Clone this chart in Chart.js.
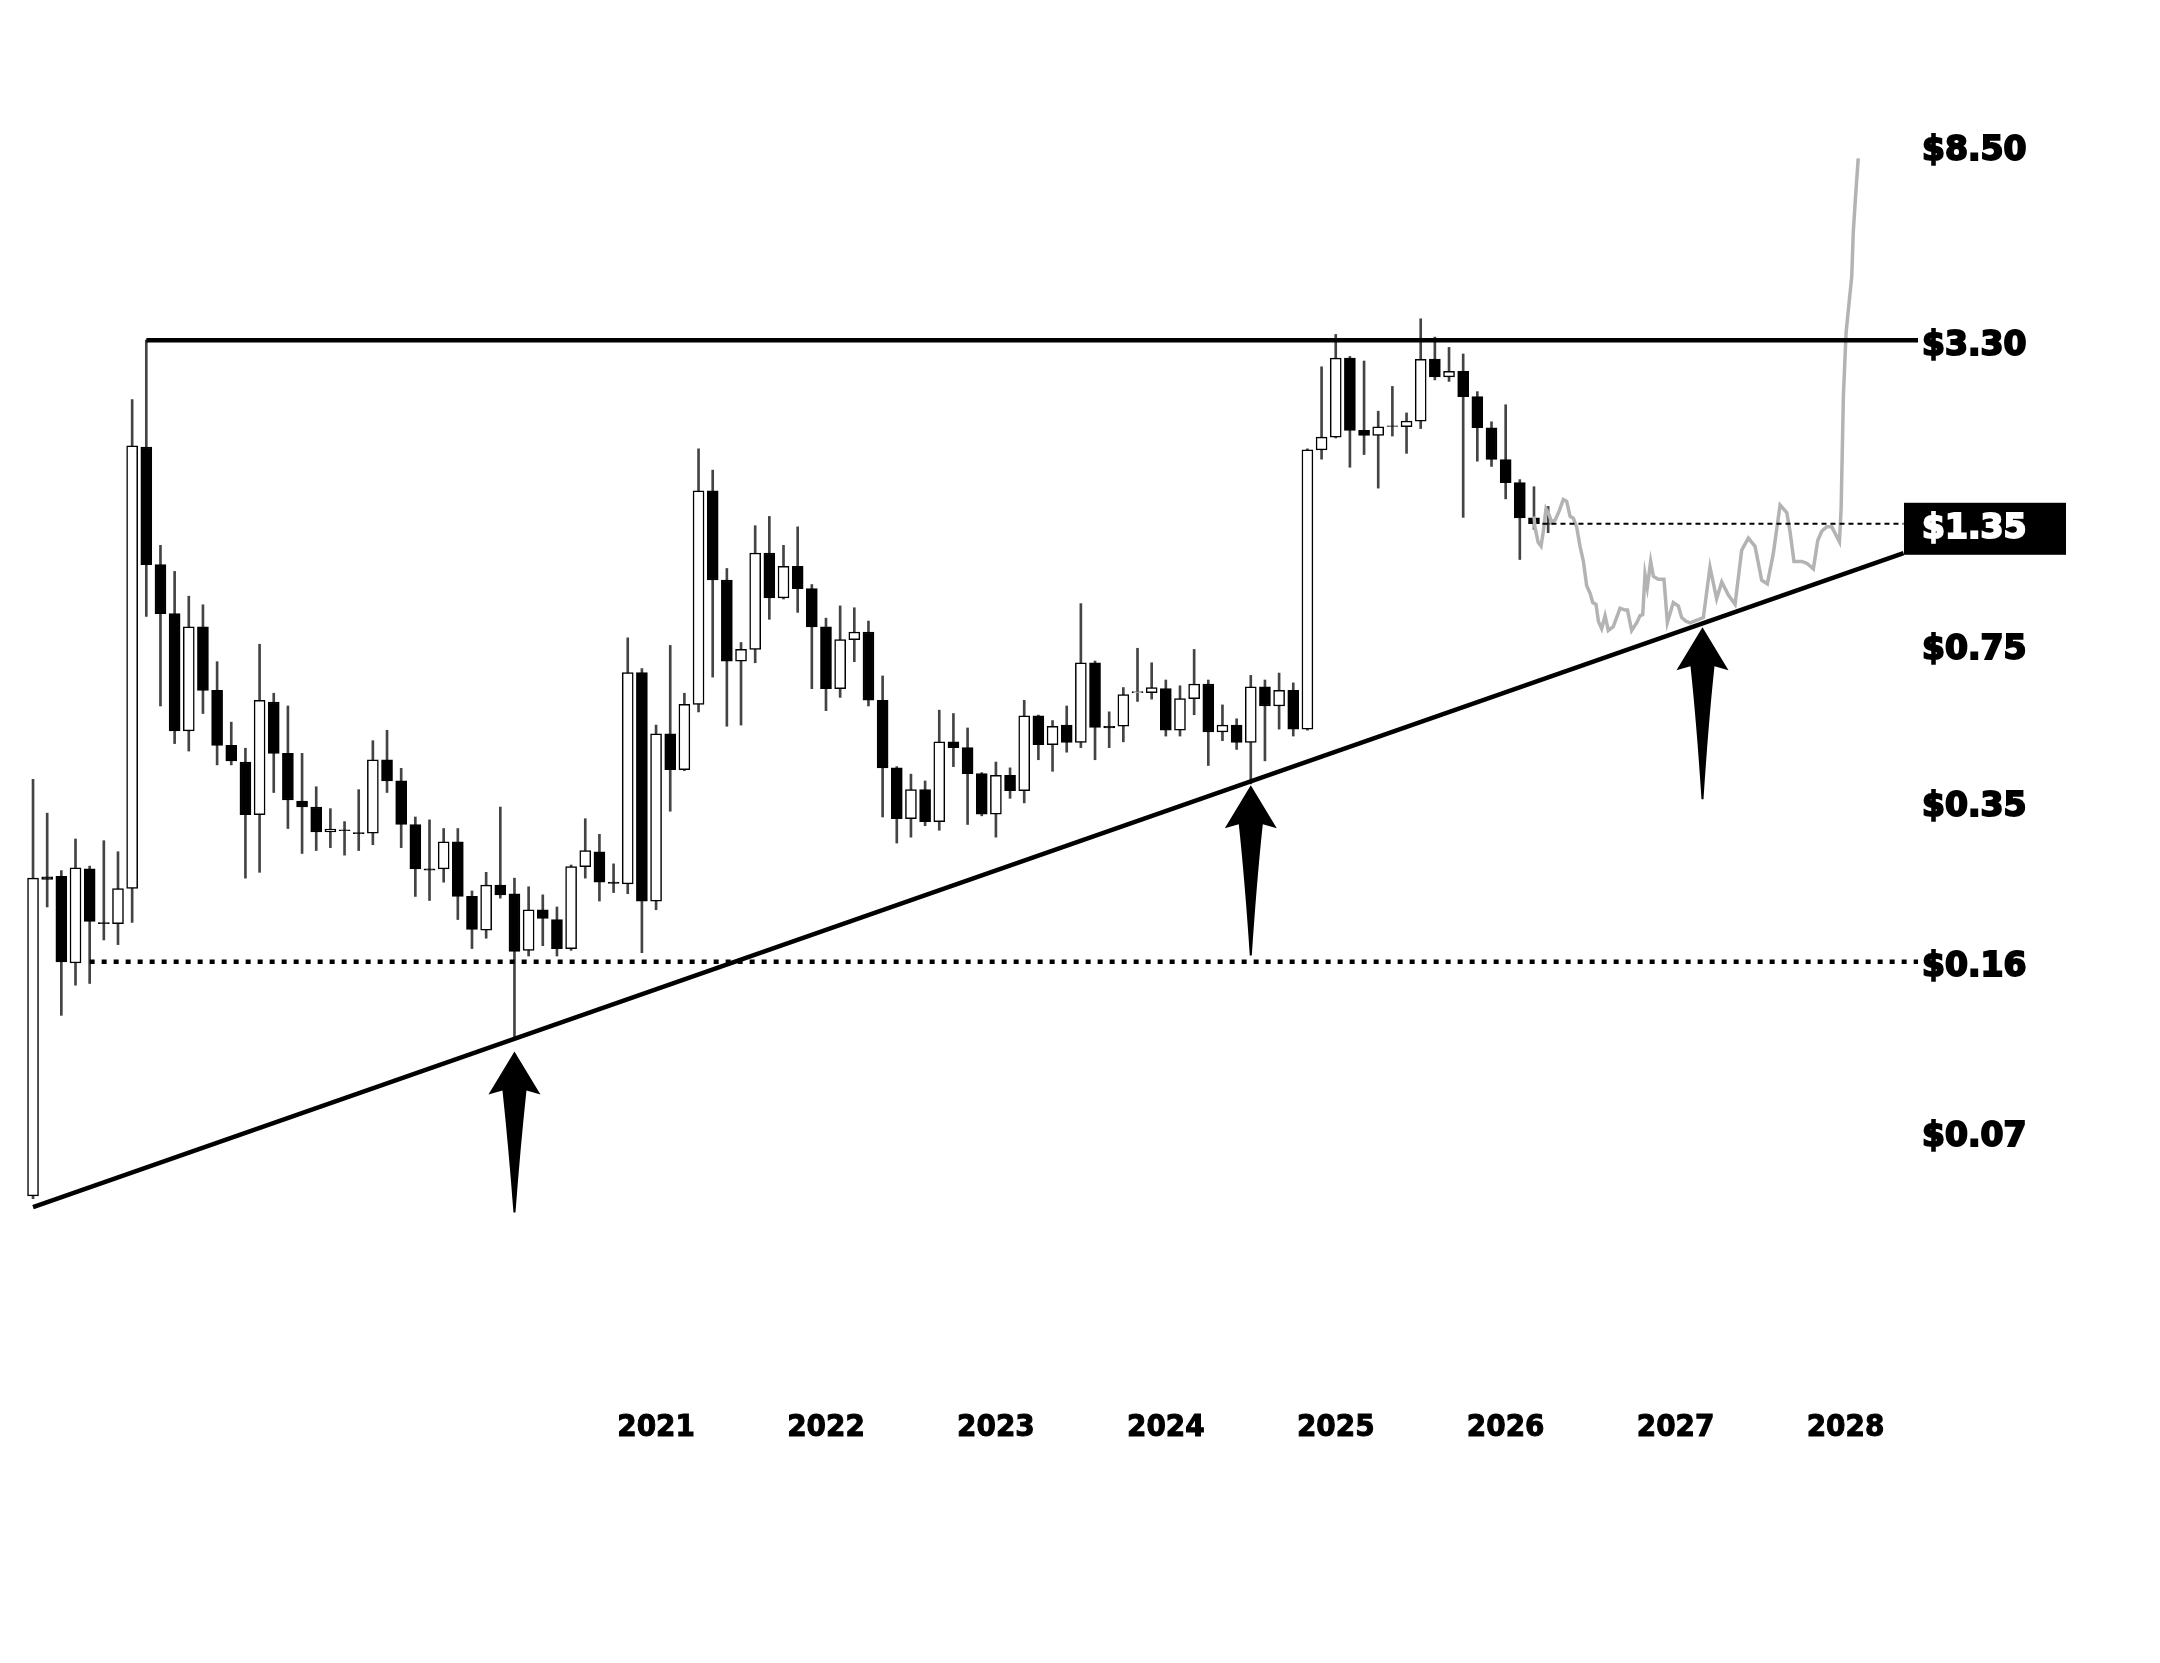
<!DOCTYPE html>
<html>
<head>
<meta charset="utf-8">
<title>Price chart</title>
<script src="https://cdn.jsdelivr.net/npm/chart.js@4.4.1/dist/chart.umd.min.js"></script>
<style>
  html, body { margin: 0; padding: 0; background: #fff; }
</style>
</head>
<body>
<canvas id="chart" width="2160" height="1663"></canvas>
<script>
// DATA (monthly candles, index 0 = first month)
const openP = [0.0512, 0.242, 0.2426, 0.1591, 0.2516, 0.1938, 0.1927, 0.2287, 1.962, 1.107,
  0.872, 0.4927, 0.8174, 0.600, 0.459, 0.4233, 0.3275, 0.5669, 0.4415, 0.3498,
  0.340, 0.301, 0.3044, 0.3002, 0.2993, 0.428, 0.386, 0.3123, 0.2516, 0.2516,
  0.2869, 0.220, 0.1867, 0.2325, 0.2229, 0.1692, 0.2062, 0.1966, 0.1707, 0.2543,
  0.2735, 0.236, 0.2338, 0.6545, 0.2151, 0.4858, 0.408, 0.5605, 1.584, 1.027,
  0.692, 0.7323, 1.171, 0.9414, 1.098, 0.9848, 0.8174, 0.6049, 0.768, 0.797,
  0.5717, 0.4114, 0.3212, 0.370, 0.3167, 0.467, 0.454, 0.400, 0.3285, 0.3967,
  0.368, 0.530, 0.4605, 0.5067, 0.4657, 0.6863, 0.5038, 0.5038, 0.5933, 0.5933,
  0.6049, 0.494, 0.5765, 0.6188, 0.4899, 0.5067, 0.4657, 0.6101, 0.556, 0.600,
  0.4968, 1.934, 2.058, 3.024, 2.128, 2.075, 2.176, 2.165, 2.226, 3.01,
  2.76, 2.836, 2.508, 2.155, 1.846, 1.650, 1.389, 1.352];
const highP = [0.389, 0.330, 0.2495, 0.291, 0.255, 0.2886, 0.2735, 2.470, 3.30, 1.2155,
  1.0707, 0.949, 0.910, 0.690, 0.514, 0.4527, 0.751, 0.5916, 0.556, 0.4415,
  0.3753, 0.3373, 0.3167, 0.370, 0.4696, 0.494, 0.4104, 0.3239, 0.3194, 0.3062,
  0.3062, 0.226, 0.2474, 0.340, 0.2405, 0.2306, 0.2217, 0.209, 0.2564, 0.3212,
  0.2977, 0.2578, 0.7746, 0.6675, 0.5067, 0.7468, 0.5916, 1.945, 1.753, 1.086,
  0.7574, 1.3375, 1.3994, 1.2155, 1.330, 1.0044, 0.8527, 0.9052, 0.897, 0.8409,
  0.6436, 0.4139, 0.399, 0.386, 0.5448, 0.536, 0.4996, 0.402, 0.4233, 0.4114,
  0.5717, 0.532, 0.518, 0.556, 0.9152, 0.692, 0.5404, 0.6083, 0.7364, 0.6863,
  0.631, 0.6135, 0.7323, 0.631, 0.559, 0.5224, 0.6454, 0.631, 0.6527, 0.6222,
  1.945, 2.899, 3.394, 3.049, 2.982, 2.3355, 2.635, 2.316, 3.662, 3.35,
  3.186, 3.086, 2.569, 2.218, 2.41, 1.674, 1.617, 1.469];
const lowP = [0.0505, 0.209, 0.1233, 0.1428, 0.144, 0.178, 0.174, 0.1938, 0.860, 0.556,
  0.463, 0.4465, 0.536, 0.4174, 0.4174, 0.2405, 0.2474, 0.3649, 0.3062, 0.2712,
  0.2751, 0.279, 0.269, 0.2751, 0.283, 0.3649, 0.279, 0.220, 0.2157, 0.2358,
  0.1966, 0.1707, 0.1795, 0.2182, 0.111, 0.1646, 0.1731, 0.1646, 0.1692, 0.2405,
  0.2151, 0.2242, 0.2229, 0.1674, 0.2062, 0.3331, 0.4058, 0.5404, 0.640, 0.5038,
  0.5067, 0.6863, 0.848, 0.936, 0.877, 0.6049, 0.5435, 0.5798, 0.690, 0.556,
  0.3239, 0.2853, 0.2936, 0.3104, 0.3036, 0.4139, 0.3123, 0.3257, 0.2936, 0.3547,
  0.3469, 0.428, 0.4046, 0.444, 0.454, 0.428, 0.454, 0.467, 0.5685, 0.5749,
  0.4803, 0.4803, 0.5329, 0.4162, 0.4696, 0.450, 0.3806, 0.4257, 0.4968, 0.4803,
  0.494, 1.849, 2.05, 1.7776, 1.891, 1.606, 2.0695, 1.902, 2.146, 2.72,
  2.70, 1.393, 1.831, 1.785, 1.524, 1.1345, 1.3136, 1.293];
const closeP = [0.2405, 0.239, 0.160, 0.253, 0.1949, 0.1927, 0.2287, 1.973, 1.107, 0.872,
  0.4927, 0.8174, 0.600, 0.459, 0.4257, 0.3275, 0.5717, 0.4415, 0.3518, 0.340,
  0.301, 0.3053, 0.303, 0.2985, 0.428, 0.386, 0.3123, 0.2516, 0.2500, 0.2869,
  0.220, 0.1873, 0.2325, 0.2217, 0.1683, 0.2062, 0.1977, 0.1707, 0.2543, 0.2751,
  0.2358, 0.2345, 0.6545, 0.2151, 0.4858, 0.408, 0.5605, 1.584, 1.027, 0.692,
  0.7323, 1.171, 0.9414, 1.098, 0.9848, 0.8174, 0.6049, 0.768, 0.797, 0.5717,
  0.4114, 0.3212, 0.370, 0.3167, 0.467, 0.454, 0.400, 0.3285, 0.3967, 0.368,
  0.530, 0.4605, 0.5038, 0.4657, 0.6863, 0.501, 0.500, 0.588, 0.5967, 0.6083,
  0.494, 0.5765, 0.6188, 0.4899, 0.5067, 0.4657, 0.6101, 0.556, 0.600, 0.4968,
  1.934, 2.058, 3.024, 2.128, 2.075, 2.165, 2.17, 2.2257, 3.008, 2.76,
  2.836, 2.508, 2.155, 1.846, 1.650, 1.389, 1.35, 1.348];

// projected path (grey line)
const projX = [106, 106.07, 106.3, 106.5, 106.66, 106.85, 107.0, 107.25, 107.49, 107.79,
  108.07, 108.31, 108.55, 108.78, 109.02, 109.25, 109.49, 109.72, 109.96, 110.15,
  110.38, 110.55, 110.78, 111.02, 111.25, 111.6, 112.08, 112.43, 112.6, 112.9,
  113.25, 113.49, 113.68, 113.84, 114.0, 114.24, 114.43, 114.78, 115.18, 115.42,
  115.84, 116.2, 116.43, 116.74, 117.02, 117.96, 118.43, 118.9, 119.26, 119.73,
  120.2, 120.67, 121.14, 121.61, 122.08, 122.48, 122.9, 123.38, 123.85, 124.08,
  124.36, 124.91, 125.26, 125.73, 126.04, 126.32, 126.67, 127.03, 127.26, 127.57,
  127.69, 127.85, 128.04, 128.2, 128.44, 128.55, 128.74, 128.9];
const projY = [1.40, 1.326, 1.232, 1.21, 1.302, 1.452, 1.426, 1.362, 1.374, 1.439,
  1.52, 1.506, 1.40, 1.387, 1.326, 1.21, 1.124, 0.999, 0.963, 0.92,
  0.912, 0.84, 0.81, 0.863, 0.803, 0.818, 0.895, 0.887, 0.887, 0.803,
  0.833, 0.863, 0.867, 1.055, 0.99, 1.124, 1.045, 1.03, 1.03, 0.835,
  0.92, 0.904, 0.855, 0.84, 0.833, 0.855, 1.093, 0.937, 1.017, 0.954,
  0.912, 1.188, 1.259, 1.21, 1.026, 1.008, 1.167, 1.479, 1.426, 1.302,
  1.124, 1.124, 1.114, 1.084, 1.244, 1.302, 1.33, 1.33, 1.29, 1.237,
  1.452, 2.51, 3.42, 3.82, 4.50, 5.60, 6.85, 8.0];

// levels and trend lines
const resistance = 3.3;
const resistanceX = [8, 133.3];
const floorLevel = 0.16;
const floorX = [4, 133.3];
const lastPrice = 1.35;
const lastX = [106.6, 132.1];
const supportX = [0, 132.1];
const supportY = [0.0485, 1.17];

// arrows (x index, tip price, tail price)
const arrowX = [34, 86, 117.9];
const arrowTip = [0.1034, 0.378, 0.816];
const arrowTail = [0.0472, 0.165, 0.353];

// axis ticks
const priceTicks = [8.5, 3.3, 1.35, 0.75, 0.35, 0.16, 0.07];
const years = ["2021", "2022", "2023", "2024", "2025", "2026", "2027", "2028"];
const yearX = [44, 56, 68, 80, 92, 104, 116, 128];

// BUILD DATASETS
const bodies = openP.map((o, i) => ({ x: i, y: [o, closeP[i]] }));
const wicks = lowP.map((l, i) => ({ x: i, y: [l, highP[i]] }));
const projection = projX.map((x, i) => ({ x: x, y: projY[i] }));

function isUp(i) {
  return closeP[i] >= openP[i];
}

// ARROWS + PRICE BOX
function drawArrow(ctx, px, tipY, tailY) {
  ctx.beginPath();
  ctx.moveTo(px, tipY);
  ctx.lineTo(px + 26, tipY + 43);
  ctx.lineTo(px + 12, tipY + 39);
  ctx.quadraticCurveTo(px + 6, tipY + 95, px + 1, tailY);
  ctx.lineTo(px - 1, tailY);
  ctx.quadraticCurveTo(px - 6, tipY + 95, px - 12, tipY + 39);
  ctx.lineTo(px - 26, tipY + 43);
  ctx.closePath();
  ctx.fill();
}

const annotate = {
  id: "annotate",
  beforeDraw(chart) {
    const { ctx, chartArea, scales } = chart;
    const py = scales.y.getPixelForValue(lastPrice);
    ctx.save();
    ctx.fillStyle = "#000";
    ctx.fillRect(chartArea.right - 14, py - 21, 162, 52);
    ctx.restore();
  },
  afterDatasetsDraw(chart) {
    const { ctx, scales } = chart;
    ctx.save();
    ctx.fillStyle = "#000";
    arrowX.forEach((ax, i) => {
      drawArrow(ctx,
        scales.x.getPixelForValue(ax),
        scales.y.getPixelForValue(arrowTip[i]),
        scales.y.getPixelForValue(arrowTail[i]));
    });
    ctx.restore();
  }
};

// CHART
new Chart(document.getElementById("chart"), {
  type: "bar",
  data: {
    datasets: [
      {
        type: "line",
        data: [{ x: resistanceX[0], y: resistance }, { x: resistanceX[1], y: resistance }],
        borderColor: "#000",
        borderWidth: 4.5,
        pointRadius: 0,
        order: 1
      },
      {
        type: "line",
        data: [{ x: supportX[0], y: supportY[0] }, { x: supportX[1], y: supportY[1] }],
        borderColor: "#000",
        borderWidth: 4.5,
        pointRadius: 0,
        order: 1
      },
      {
        type: "line",
        data: [{ x: floorX[0], y: floorLevel }, { x: floorX[1], y: floorLevel }],
        borderColor: "#000",
        borderWidth: 4.5,
        borderDash: [5, 7],
        pointRadius: 0,
        order: 2
      },
      {
        type: "line",
        data: [{ x: lastX[0], y: lastPrice }, { x: lastX[1], y: lastPrice }],
        borderColor: "#000",
        borderWidth: 2,
        borderDash: [5, 4],
        pointRadius: 0,
        order: 2
      },
      {
        type: "line",
        data: projection,
        borderColor: "#b3b3b3",
        borderWidth: 3.5,
        pointRadius: 0,
        tension: 0,
        order: 3
      },
      {
        data: bodies,
        grouped: false,
        barThickness: 11,
        borderWidth: 1.5,
        borderColor: "#000",
        borderSkipped: false,
        backgroundColor: ctx => isUp(ctx.dataIndex) ? "#fff" : "#000",
        order: 4
      },
      {
        data: wicks,
        grouped: false,
        barThickness: 2,
        borderWidth: 0,
        backgroundColor: "#444",
        order: 5
      }
    ]
  },
  options: {
    responsive: false,
    animation: false,
    events: [],
    layout: { padding: { top: 120, left: 20, right: 0, bottom: 0 } },
    plugins: {
      legend: { display: false },
      tooltip: { enabled: false }
    },
    scales: {
      x: {
        type: "linear",
        offset: false,
        min: -0.92,
        max: 133.12,
        grid: { display: false, drawTicks: false },
        border: { display: false },
        afterBuildTicks: s => { s.ticks = yearX.map(v => ({ value: v })); },
        afterFit: s => { s.height = 273; },
        ticks: {
          autoSkip: false,
          maxRotation: 0,
          minRotation: 0,
          padding: 19,
          color: "#000",
          textStrokeColor: "#000",
          textStrokeWidth: 1,
          font: { family: "'DejaVu Sans Condensed', sans-serif", weight: "bold", size: 31 },
          callback: v => years[yearX.indexOf(v)]
        }
      },
      y: {
        type: "logarithmic",
        position: "right",
        min: 0.0199,
        max: 9.64,
        grid: { display: false, drawTicks: false },
        border: { display: false },
        afterBuildTicks: s => { s.ticks = priceTicks.map(v => ({ value: v })); },
        afterFit: s => { s.width = 242; },
        ticks: {
          autoSkip: false,
          padding: 4,
          labelOffset: 6,
          color: c => c.tick && c.tick.value === lastPrice ? "#fff" : "#000",
          textStrokeColor: c => c.tick && c.tick.value === lastPrice ? "#fff" : "#000",
          textStrokeWidth: 2,
          font: { family: "'DejaVu Sans', sans-serif", weight: "bold", size: 33 },
          callback: v => "$" + Number(v).toFixed(2)
        }
      }
    }
  },
  plugins: [annotate]
});
</script>
</body>
</html>
